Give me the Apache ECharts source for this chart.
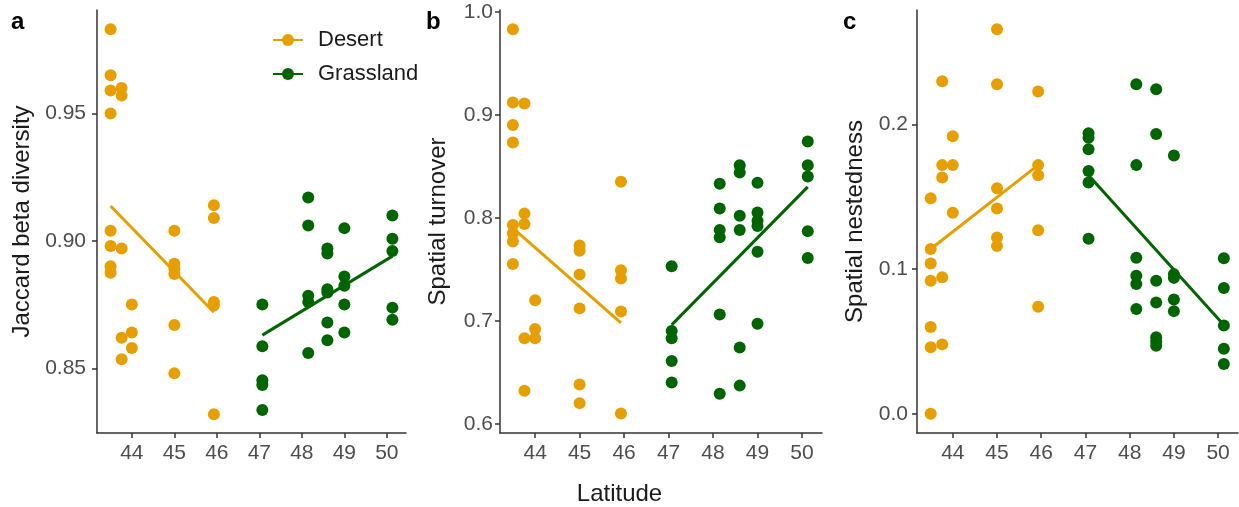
<!DOCTYPE html>
<html>
<head>
<meta charset="utf-8">
<script src="https://cdn.jsdelivr.net/npm/echarts@6/dist/echarts.min.js"></script>
<style>
  html, body { margin: 0; padding: 0; background: #fff; }
  #chart { width: 1239px; height: 507px; }
</style>
</head>
<body>
<div id="chart"></div>
<script>
// tick labels
const latTicks = [44, 45, 46, 47, 48, 49, 50];
const jaccardTicks = [0.85, 0.9, 0.95];
const turnoverTicks = [0.6, 0.7, 0.8, 0.9, 1.0];
const nestednessTicks = [0.0, 0.1, 0.2];

// panel a: Jaccard beta diversity, [latitude, value]
const jaccardDesert = [
  [43.5, 0.983], [43.5, 0.965], [43.5, 0.959], [43.5, 0.950], [43.5, 0.904], [43.5, 0.898], [43.5, 0.890], [43.5, 0.8875],
  [43.76, 0.960], [43.76, 0.957], [43.76, 0.897], [43.76, 0.862], [43.76, 0.8535],
  [44.0, 0.875], [44.0, 0.864], [44.0, 0.858],
  [45.0, 0.904], [45.0, 0.891], [45.0, 0.889], [45.0, 0.887], [45.0, 0.867], [45.0, 0.848],
  [45.93, 0.914], [45.93, 0.909], [45.93, 0.876], [45.93, 0.8746], [45.93, 0.832]
];
const jaccardGrass = [
  [47.07, 0.875], [47.07, 0.8586], [47.07, 0.8453], [47.07, 0.8434], [47.07, 0.8336],
  [48.15, 0.917], [48.15, 0.906], [48.15, 0.8785], [48.15, 0.876], [48.15, 0.856],
  [48.6, 0.897], [48.6, 0.895], [48.6, 0.881], [48.6, 0.8797], [48.6, 0.868], [48.6, 0.861],
  [49.0, 0.905], [49.0, 0.886], [49.0, 0.8824], [49.0, 0.875], [49.0, 0.864],
  [50.13, 0.910], [50.13, 0.9008], [50.13, 0.896], [50.13, 0.8738], [50.13, 0.869]
];
const jaccardDesertFit = [[43.5, 0.9137], [45.93, 0.872]];
const jaccardGrassFit = [[47.07, 0.863], [50.13, 0.894]];

// panel b: spatial turnover
const turnoverDesert = [
  [43.5, 0.983], [43.5, 0.912], [43.5, 0.890], [43.5, 0.873], [43.5, 0.793], [43.5, 0.785], [43.5, 0.777], [43.5, 0.755],
  [43.76, 0.911], [43.76, 0.804], [43.76, 0.794], [43.76, 0.683], [43.76, 0.632],
  [44.0, 0.720], [44.0, 0.692], [44.0, 0.683],
  [45.0, 0.773], [45.0, 0.768], [45.0, 0.745], [45.0, 0.712], [45.0, 0.638], [45.0, 0.620],
  [45.93, 0.835], [45.93, 0.749], [45.93, 0.741], [45.93, 0.709], [45.93, 0.610]
];
const turnoverGrass = [
  [47.07, 0.753], [47.07, 0.690], [47.07, 0.683], [47.07, 0.661], [47.07, 0.640],
  [48.15, 0.833], [48.15, 0.809], [48.15, 0.788], [48.15, 0.781], [48.15, 0.706], [48.15, 0.629],
  [48.6, 0.851], [48.6, 0.844], [48.6, 0.802], [48.6, 0.788], [48.6, 0.674], [48.6, 0.637],
  [49.0, 0.834], [49.0, 0.805], [49.0, 0.797], [49.0, 0.792], [49.0, 0.767], [49.0, 0.697],
  [50.13, 0.874], [50.13, 0.851], [50.13, 0.840], [50.13, 0.787], [50.13, 0.761]
];
const turnoverDesertFit = [[43.5, 0.790], [45.93, 0.698]];
const turnoverGrassFit = [[47.07, 0.696], [50.13, 0.830]];

// panel c: spatial nestedness
const nestednessDesert = [
  [43.5, 0.149], [43.5, 0.114], [43.5, 0.104], [43.5, 0.092], [43.5, 0.060], [43.5, 0.046], [43.5, 0.0],
  [43.76, 0.230], [43.76, 0.172], [43.76, 0.1635], [43.76, 0.0945], [43.76, 0.048],
  [44.0, 0.192], [44.0, 0.172], [44.0, 0.139],
  [45.0, 0.266], [45.0, 0.228], [45.0, 0.156], [45.0, 0.142], [45.0, 0.122], [45.0, 0.116],
  [45.93, 0.223], [45.93, 0.172], [45.93, 0.165], [45.93, 0.127], [45.93, 0.074]
];
const nestednessGrass = [
  [47.07, 0.194], [47.07, 0.191], [47.07, 0.183], [47.07, 0.168], [47.07, 0.160], [47.07, 0.121],
  [48.15, 0.228], [48.15, 0.172], [48.15, 0.108], [48.15, 0.0955], [48.15, 0.0897], [48.15, 0.0724],
  [48.6, 0.2245], [48.6, 0.1936], [48.6, 0.092], [48.6, 0.077], [48.6, 0.053], [48.6, 0.050], [48.6, 0.047],
  [49.0, 0.1786], [49.0, 0.0966], [49.0, 0.094], [49.0, 0.079], [49.0, 0.071],
  [50.13, 0.1076], [50.13, 0.087], [50.13, 0.061], [50.13, 0.045], [50.13, 0.0345]
];
const nestednessDesertFit = [[43.5, 0.114], [45.93, 0.172]];
const nestednessGrassFit = [[47.07, 0.165], [50.13, 0.0614]];

const DESERT = '#E69F00';
const GRASS = '#006400';
const FONT = '"Liberation Sans", Arial, sans-serif';
const AXIS_COLOR = '#333333';

const chart = echarts.init(document.getElementById('chart'), null, { renderer: 'canvas' });

const axisLine = { show: true, onZero: false, lineStyle: { color: AXIS_COLOR, width: 1.5 } };

const xAxisFor = (gridIndex, min) => ({
  type: 'value',
  gridIndex,
  min,
  max: 50.45,
  axisLine,
  axisTick: { show: true, length: 5, customValues: latTicks, lineStyle: { color: AXIS_COLOR, width: 1.5 } },
  axisLabel: { customValues: latTicks, fontSize: 21, color: '#4d4d4d', fontFamily: FONT, margin: 10 },
  splitLine: { show: false },
});

const yAxisFor = (gridIndex, min, max, ticks, digits, name, nameGap, labelMargin) => ({
  type: 'value',
  gridIndex,
  min,
  max,
  name,
  nameLocation: 'middle',
  nameGap,
  nameTextStyle: { fontSize: 24, color: '#1a1a1a', fontFamily: FONT },
  axisLine,
  axisTick: { show: true, length: 5, customValues: ticks, lineStyle: { color: AXIS_COLOR, width: 1.5 } },
  axisLabel: {
    customValues: ticks,
    fontSize: 21,
    color: '#4d4d4d',
    fontFamily: FONT,
    margin: labelMargin,
    formatter: v => v.toFixed(digits),
  },
  splitLine: { show: false },
});

const points = (idx, data, color) => ({
  type: 'scatter',
  xAxisIndex: idx,
  yAxisIndex: idx,
  data,
  symbolSize: 12,
  itemStyle: { color, opacity: 1 },
  silent: true,
  z: 2,
});

const fitLine = (idx, data, color) => ({
  type: 'line',
  xAxisIndex: idx,
  yAxisIndex: idx,
  data,
  symbol: 'none',
  lineStyle: { color, width: 3 },
  silent: true,
  z: 3,
});

// dummy series so the legend gets a line-with-dot key
const legendKey = (name, color) => ({
  type: 'line',
  name,
  xAxisIndex: 0,
  yAxisIndex: 0,
  data: [],
  symbol: 'circle',
  symbolSize: 12,
  itemStyle: { color },
  lineStyle: { color, width: 3 },
});

const letter = (text, left) => ({
  text,
  left,
  top: 10,
  padding: 0,
  textStyle: { fontSize: 24, fontWeight: 'bold', color: '#000', fontFamily: FONT },
});

const option = {
  backgroundColor: '#fff',
  animation: false,
  title: [
    letter('a', 11),
    letter('b', 426),
    letter('c', 843),
    {
      text: 'Latitude',
      left: 'center',
      top: 482,
      padding: 0,
      textStyle: { fontSize: 24, fontWeight: 'normal', color: '#1a1a1a', fontFamily: FONT },
    },
  ],
  legend: {
    data: ['Desert', 'Grassland'],
    orient: 'vertical',
    left: 272,
    top: 29,
    padding: 0,
    itemWidth: 30,
    itemHeight: 15,
    itemGap: 12,
    textStyle: { fontSize: 22, color: '#1a1a1a', fontFamily: FONT, padding: [0, 0, 0, 10] },
    selectedMode: false,
  },
  grid: [
    { left: 97, top: 10, width: 309, height: 423 },
    { left: 500, top: 10, width: 322, height: 423 },
    { left: 917, top: 10, width: 321, height: 423 },
  ],
  xAxis: [xAxisFor(0, 43.18), xAxisFor(1, 43.21), xAxisFor(2, 43.19)],
  yAxis: [
    yAxisFor(0, 0.8246, 0.9906, jaccardTicks, 2, 'Jaccard beta diversity', 63, 11),
    yAxisFor(1, 0.591, 1.0017, turnoverTicks, 1, 'Spatial turnover', 50, 7),
    yAxisFor(2, -0.0133, 0.2793, nestednessTicks, 1, 'Spatial nestedness', 50, 9),
  ],
  series: [
    points(0, jaccardDesert, DESERT),
    points(0, jaccardGrass, GRASS),
    fitLine(0, jaccardDesertFit, DESERT),
    fitLine(0, jaccardGrassFit, GRASS),
    points(1, turnoverDesert, DESERT),
    points(1, turnoverGrass, GRASS),
    fitLine(1, turnoverDesertFit, DESERT),
    fitLine(1, turnoverGrassFit, GRASS),
    points(2, nestednessDesert, DESERT),
    points(2, nestednessGrass, GRASS),
    fitLine(2, nestednessDesertFit, DESERT),
    fitLine(2, nestednessGrassFit, GRASS),
    legendKey('Desert', DESERT),
    legendKey('Grassland', GRASS),
  ],
};

chart.setOption(option);
</script>
</body>
</html>
